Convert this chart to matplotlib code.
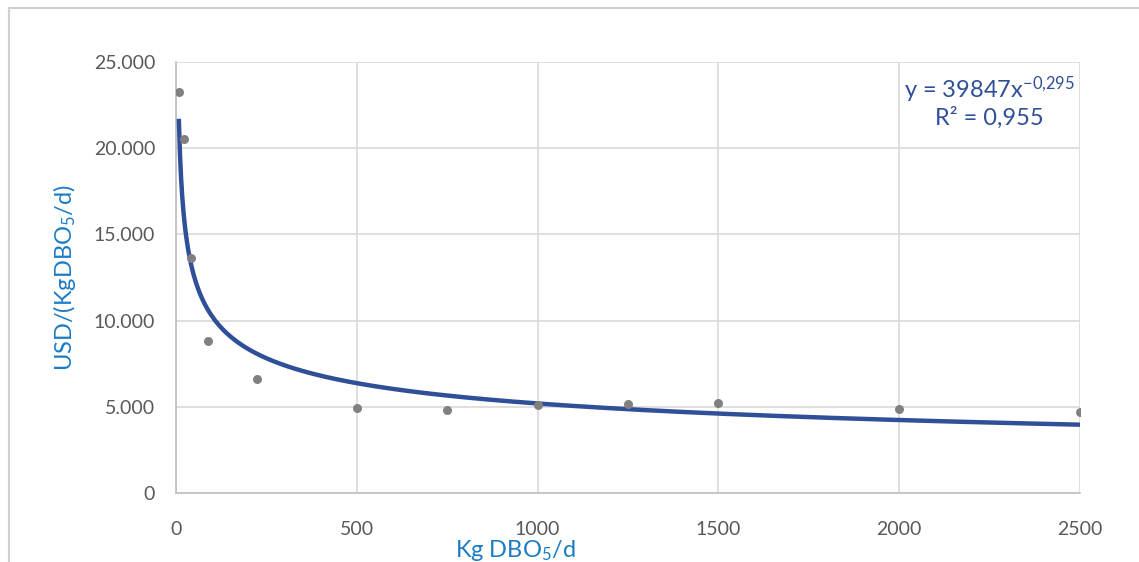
import matplotlib

matplotlib.use("Agg")
import matplotlib.pyplot as plt
import numpy as np
from matplotlib.patches import Rectangle
from matplotlib.ticker import FuncFormatter

# observed costs per plant size
load_kg = [8, 22, 42, 89, 223, 500, 750, 1000, 1250, 1500, 2000, 2500]
cost_usd = [23250, 20520, 13650, 8830, 6610, 4950, 4830, 5110, 5170, 5230, 4880, 4700]

# power trendline reported on the chart
coef_a = 39847
coef_b = -0.295
eq_text = r"y = 39847x$^{-0{,}295}$"
r2_text = "R² = 0,955"

x_ticks = [0, 500, 1000, 1500, 2000, 2500]
y_ticks = [0, 5000, 10000, 15000, 20000, 25000]

plt.rcParams.update(
    {
        "font.family": ["Lato", "DejaVu Sans"],
        "mathtext.fontset": "custom",
        "mathtext.rm": "Lato",
        "mathtext.it": "Lato:italic",
        "mathtext.default": "regular",
    }
)

TICK_COLOR = "#595959"
LABEL_COLOR = "#1b7cc4"
TREND_COLOR = "#2f4f98"
GRID_COLOR = "#d9d9d9"

fig = plt.figure(figsize=(11.39, 5.62), dpi=100)
fig.patches.append(
    Rectangle((9 / 1139, -0.1), 1.2, 1.1 - 8 / 562, transform=fig.transFigure,
              fill=False, edgecolor="#d0d0d0", linewidth=1.5, zorder=0)
)

ax = fig.add_axes([176 / 1139, 69 / 562, (1080 - 176) / 1139, (493 - 62) / 562])

x_fit = np.linspace(min(load_kg), max(load_kg), 800)
ax.plot(x_fit, coef_a * x_fit ** coef_b, color=TREND_COLOR, linewidth=3.2, zorder=3)
ax.scatter(load_kg, cost_usd, s=42, color="#808080", zorder=4, linewidths=0)

ax.set_xlim(0, 2500)
ax.set_ylim(0, 25000)
ax.set_xticks(x_ticks)
ax.set_yticks(y_ticks)
ax.yaxis.set_major_formatter(FuncFormatter(lambda v, _: "0" if v == 0 else f"{int(v):,}".replace(",", ".")))
ax.grid(True, color=GRID_COLOR, linewidth=1.2)
ax.set_axisbelow(True)
for side in ("top", "right"):
    ax.spines[side].set_visible(False)
for side in ("left", "bottom"):
    ax.spines[side].set_color("#bfbfbf")
    ax.spines[side].set_linewidth(1.2)

ax.tick_params(axis="both", length=0, labelsize=14, labelcolor=TICK_COLOR)
ax.tick_params(axis="x", pad=20)
ax.tick_params(axis="y", pad=15)

ax.set_xlabel(r"Kg DBO$_5$/d", fontsize=17, color=LABEL_COLOR)
ax.xaxis.set_label_coords(0.375, -0.105)
ax.set_ylabel(r"USD/(KgDBO$_5$/d)", fontsize=17, color=LABEL_COLOR)
ax.yaxis.set_label_coords(-0.108, 0.5)

ax.text(0.995, 0.935, eq_text, transform=ax.transAxes, ha="right", va="center",
        fontsize=17, color=TREND_COLOR)
ax.text(0.96, 0.87, r2_text, transform=ax.transAxes, ha="right", va="center",
        fontsize=17, color=TREND_COLOR)

fig.savefig("out.png", dpi=100)
